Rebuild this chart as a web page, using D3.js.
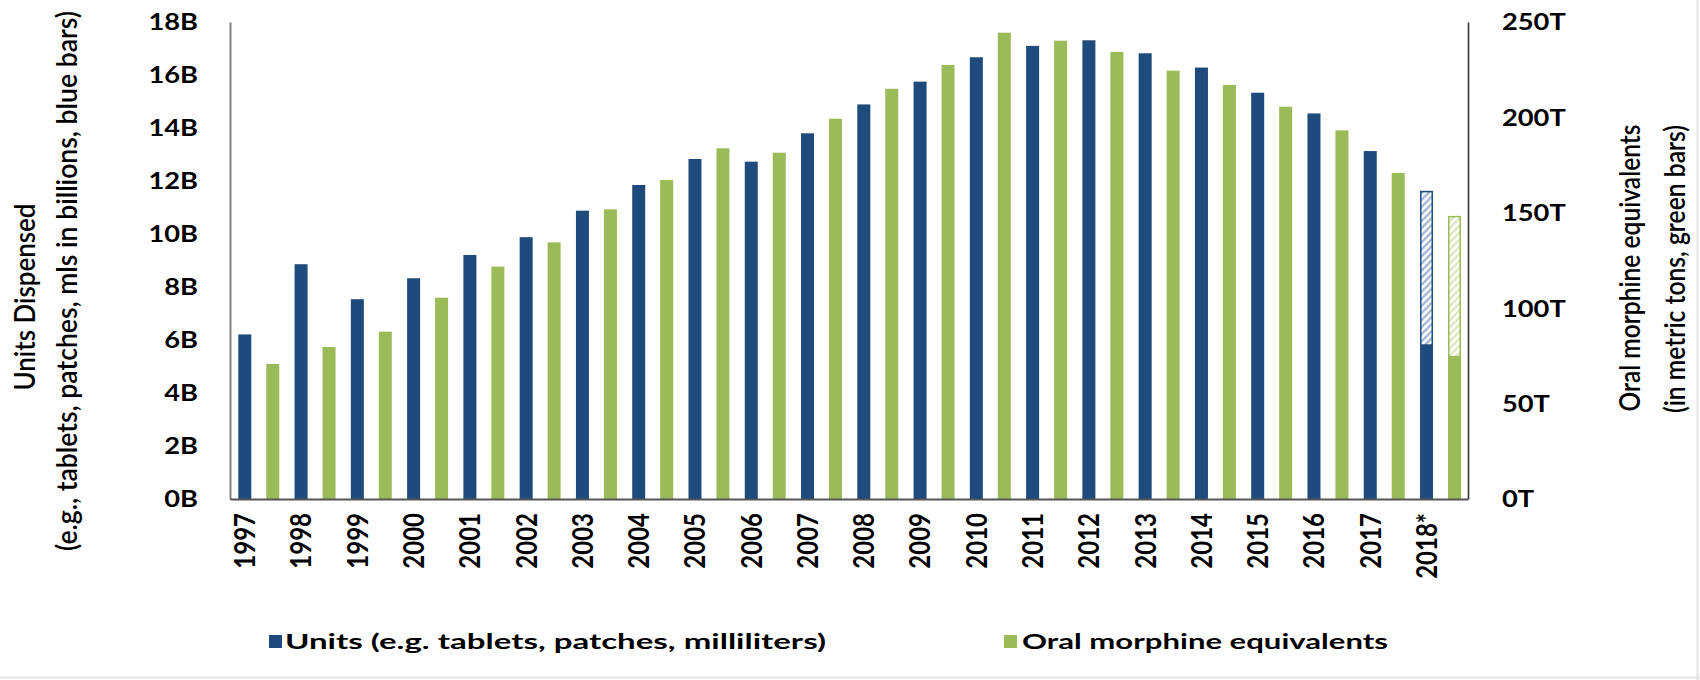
<!DOCTYPE html>
<html>
<head>
<meta charset="utf-8">
<script src="https://cdn.jsdelivr.net/npm/d3@7"></script>
<style>
  html, body { margin: 0; padding: 0; background: #ffffff; }
  svg { display: block; }
  text { font-family: Lato, "Open Sans", "DejaVu Sans", sans-serif; fill: #000; }
</style>
</head>
<body>
<svg id="chart" width="1700" height="680"></svg>
<script>
// ---------- data ----------
const years = ["1997","1998","1999","2000","2001","2002","2003","2004","2005","2006","2007",
               "2008","2009","2010","2011","2012","2013","2014","2015","2016","2017","2018*"];
// Units dispensed, billions (blue bars, left axis)
const unitsB = [6.21, 8.86, 7.54, 8.33, 9.21, 9.88, 10.88, 11.85, 12.83, 12.73, 13.80,
                14.89, 15.75, 16.67, 17.10, 17.31, 16.82, 16.28, 15.33, 14.55, 13.13, 5.81];
// Oral morphine equivalents, metric tons (green bars, right axis)
const omeT = [70.8, 79.7, 87.7, 105.5, 121.8, 134.5, 151.8, 167.2, 183.8, 181.5, 199.3,
              215.0, 227.5, 244.4, 240.2, 234.3, 224.5, 217.0, 205.6, 193.2, 170.9, 74.6];
// Projected full-year totals (hatched part of the bars)
const projectedYears = ["2018*"];
const projectedUnitsB = [11.6];
const projectedOmeT = [148.0];
// Tick values
const leftTicks = [0, 2, 4, 6, 8, 10, 12, 14, 16, 18];
const rightTicks = [0, 50, 100, 150, 200, 250];
const seriesNames = ["Units (e.g. tablets, patches, milliliters)", "Oral morphine equivalents"];

// ---------- layout ----------
const svg = d3.select("#chart");
const plotL = 230, plotR = 1468, plotT = 22, plotB = 499;
const BLUE = "#1F4A7C", GREEN = "#9BBB59";
const barW = 13;

const x = d3.scaleBand().domain(years).range([plotL, plotR]).padding(0);
const yL = d3.scaleLinear().domain([0, 18]).range([plotB, plotT]);
const yR = d3.scaleLinear().domain([0, 250]).range([plotB, plotT]);
const blueC = d => x(d) + x.bandwidth() * 0.263;
const greenC = d => x(d) + x.bandwidth() * 0.76;

// patterns
const defs = svg.append("defs");
function stripes(id, color) {
  const p = defs.append("pattern").attr("id", id)
    .attr("patternUnits", "userSpaceOnUse").attr("width", 5).attr("height", 5)
    .attr("patternTransform", "rotate(45)");
  p.append("rect").attr("width", 5).attr("height", 5).attr("fill", "#fff");
  p.append("line").attr("x1", 1.5).attr("y1", 0).attr("x2", 1.5).attr("y2", 5)
    .attr("stroke", color).attr("stroke-width", 2);
}
stripes("hatchBlue", "#8FA9D3");
stripes("hatchGreen", "#D3E4B6");

// bars
const blueData = years.map((y, i) => ({ year: y, v: unitsB[i] }));
const greenData = years.map((y, i) => ({ year: y, v: omeT[i] }));

svg.append("g").selectAll("rect").data(blueData).join("rect")
  .attr("x", d => blueC(d.year) - barW / 2)
  .attr("y", d => yL(d.v))
  .attr("width", barW)
  .attr("height", d => yL(0) - yL(d.v))
  .attr("fill", BLUE);

svg.append("g").selectAll("rect").data(greenData).join("rect")
  .attr("x", d => greenC(d.year) - barW / 2)
  .attr("y", d => yR(d.v))
  .attr("width", barW)
  .attr("height", d => yR(0) - yR(d.v))
  .attr("fill", GREEN);

// projected (hatched) parts
projectedYears.forEach((yr, i) => {
  const idx = years.indexOf(yr);
  svg.append("rect")
    .attr("x", blueC(yr) - barW / 2 + 0.75)
    .attr("y", yL(projectedUnitsB[i]))
    .attr("width", barW - 1.5)
    .attr("height", yL(unitsB[idx]) - yL(projectedUnitsB[i]))
    .attr("fill", "url(#hatchBlue)")
    .attr("stroke", BLUE).attr("stroke-width", 1.5);
  svg.append("rect")
    .attr("x", greenC(yr) - barW / 2 + 0.75)
    .attr("y", yR(projectedOmeT[i]))
    .attr("width", barW - 1.5)
    .attr("height", yR(omeT[idx]) - yR(projectedOmeT[i]))
    .attr("fill", "url(#hatchGreen)")
    .attr("stroke", GREEN).attr("stroke-width", 1.5);
});

// axes
const axL = svg.append("g").attr("transform", `translate(${plotL},0)`)
  .call(d3.axisLeft(yL).tickValues(leftTicks).tickSize(0).tickSizeOuter(0)
        .tickFormat(d => d + "B"));
axL.select(".domain").attr("stroke", "#808080").attr("stroke-width", 2);
axL.selectAll(".tick text")
  .attr("x", 0).attr("dy", "0.36em")
  .attr("transform", "translate(-32,0) scale(1.24,1)")
  .style("font-size", "22px").style("font-weight", 700).attr("fill", "#000");

const axR = svg.append("g").attr("transform", `translate(${plotR},0)`)
  .call(d3.axisRight(yR).tickValues(rightTicks).tickSize(0).tickSizeOuter(0)
        .tickFormat(d => d + "T"));
axR.select(".domain").attr("stroke", "#333").attr("stroke-width", 1.6);
axR.selectAll(".tick text")
  .attr("x", 0).attr("dy", "0.36em")
  .attr("transform", "translate(34,0) scale(1.24,1)")
  .style("font-size", "22px").style("font-weight", 700).attr("fill", "#000");

// baseline (category axis)
const axB = svg.append("g").attr("transform", `translate(0,${plotB})`)
  .call(d3.axisBottom(x).tickSize(0).tickSizeOuter(0).tickFormat(""));
axB.select(".domain").attr("stroke", "#555").attr("stroke-width", 2);
axB.selectAll(".tick").remove();

// year labels (rotated, under blue bars)
svg.append("g").selectAll("text").data(years).join("text")
  .attr("transform", d => `translate(${blueC(d)},513) scale(1.2,1) rotate(-90)`)
  .attr("text-anchor", "end").attr("dy", "0.36em")
  .style("font-size", "24px").style("font-weight", 700)
  .text(d => d);

// axis titles
function vText(xc, yc, txt, len) {
  svg.append("text")
    .attr("transform", `translate(${xc},${yc}) scale(1.15,1) rotate(-90)`)
    .attr("text-anchor", "middle").attr("dy", "0.36em")
    .attr("textLength", len).attr("lengthAdjust", "spacingAndGlyphs")
    .style("font-size", "25px").style("font-weight", 600)
    .text(txt);
}
vText(25, 297, "Units Dispensed", 187);
vText(67, 281, "(e.g., tablets, patches, mls in billions, blue bars)", 540);
vText(1630, 268, "Oral morphine equivalents", 287);
vText(1675, 269, "(in metric tons, green bars)", 288);

// legend
const legend = [
  { name: seriesNames[0], color: BLUE, sx: 269, tx: 285, len: 541 },
  { name: seriesNames[1], color: GREEN, sx: 1004, tx: 1022, len: 366 }
];
const lg = svg.append("g").selectAll("g").data(legend).join("g");
lg.append("rect").attr("x", d => d.sx).attr("y", 635).attr("width", 13).attr("height", 13)
  .attr("fill", d => d.color);
lg.append("text").attr("x", d => d.tx).attr("y", 641).attr("dy", "0.36em")
  .attr("textLength", d => d.len).attr("lengthAdjust", "spacingAndGlyphs")
  .style("font-size", "21px").style("font-weight", 700)
  .text(d => d.name);

// faint frame lines at right and bottom edge
svg.append("line").attr("x1", 0).attr("x2", 1700).attr("y1", 677.5).attr("y2", 677.5)
  .attr("stroke", "#e3e3e3").attr("stroke-width", 2);
svg.append("line").attr("x1", 1697.5).attr("x2", 1697.5).attr("y1", 0).attr("y2", 680)
  .attr("stroke", "#e3e3e3").attr("stroke-width", 2);
</script>
</body>
</html>
